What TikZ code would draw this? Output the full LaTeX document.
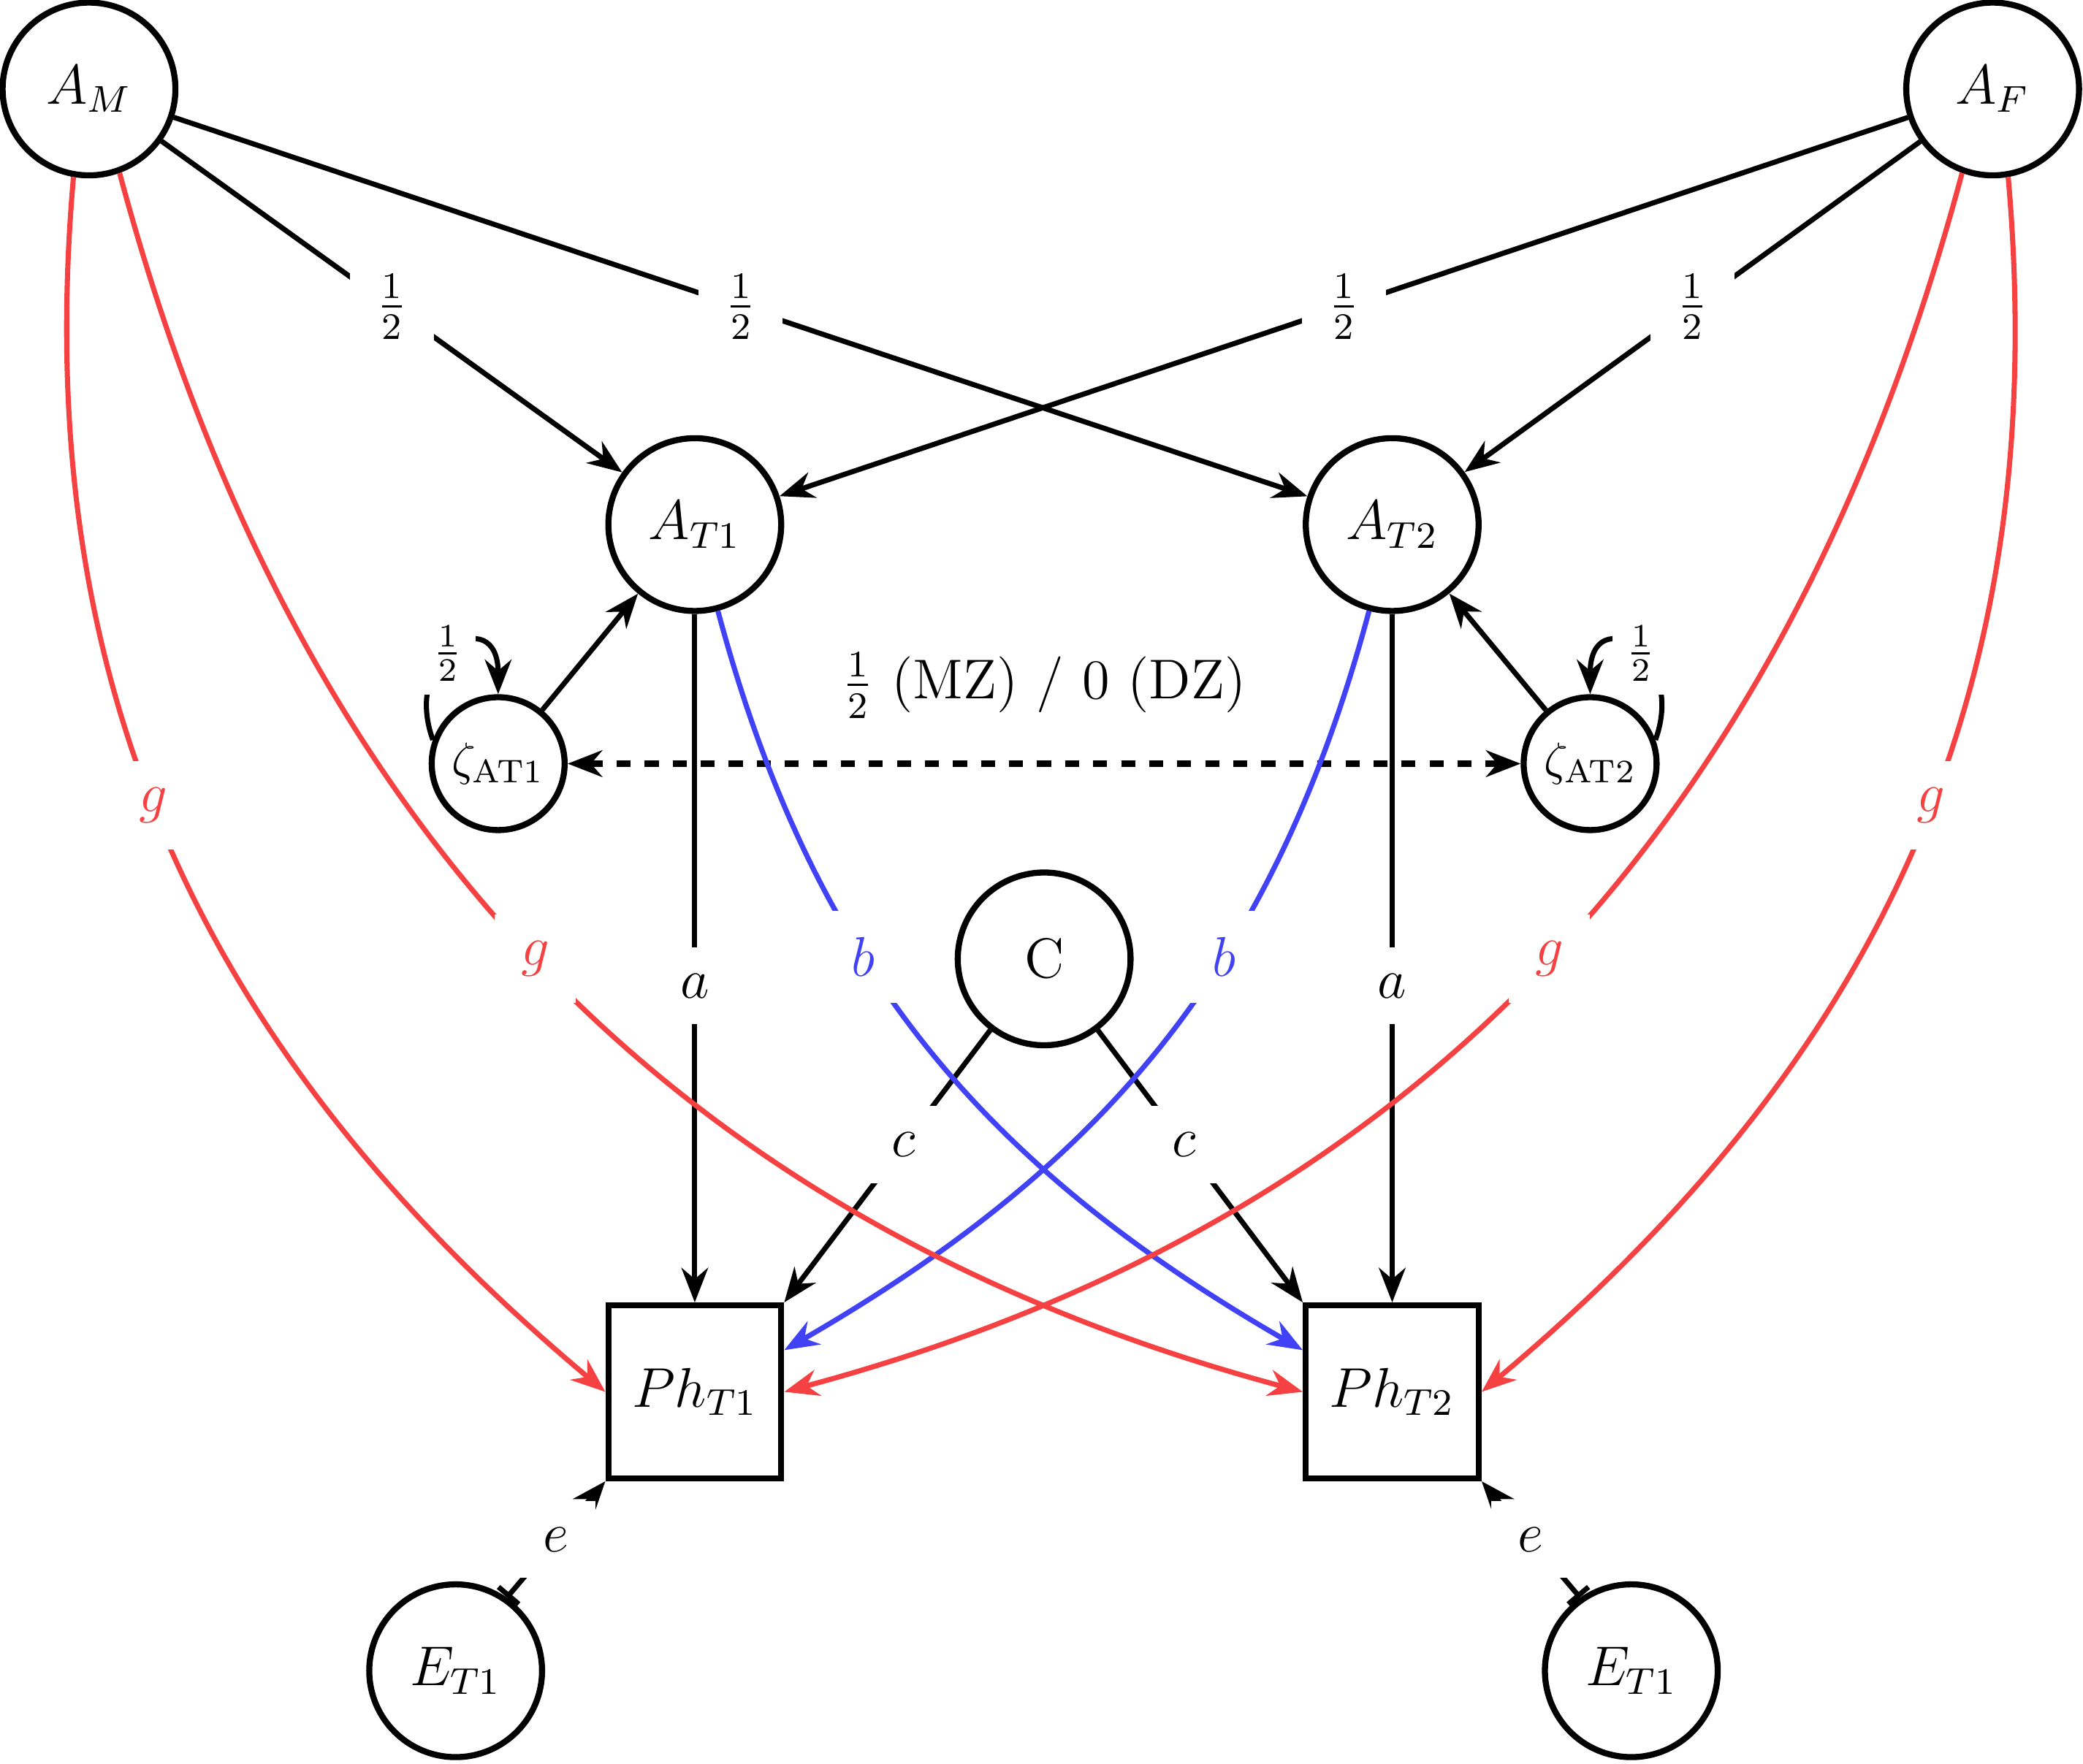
\documentclass[tikz,border=0pt]{standalone}
\usepackage{amsmath}
\usepackage{tikz}
\usetikzlibrary{arrows.meta,positioning}
\tikzset{>={Stealth[length=2.6mm,width=2mm]}}
\tikzset{latent/.style={circle,draw,line width=1.3pt,minimum size=13mm,inner sep=0mm,font=\large}}
\tikzset{resid/.style={circle,draw,line width=1.3pt,minimum size=10mm,inner sep=0mm}}
\tikzset{observed/.style={rectangle,draw,line width=1.3pt,minimum size=13mm,inner sep=0mm,font=\large}}
\tikzset{path/.style={->,line width=1.1pt}}
\tikzset{lbl/.style={fill=white,inner sep=2mm,font=\large}}
\definecolor{gred}{RGB}{245,65,65}
\definecolor{bblue}{RGB}{65,65,245}
\begin{document}
\begin{tikzpicture}[x=0.01cm,y=-0.01cm]
    \useasboundingbox (0,0) rectangle (1568,1328);
    \node[latent]   (am)  at (67,67)    {$A_M$};
    \node[latent]   (af)  at (1500,67)  {$A_F$};
    \node[latent]   (at1) at (523,395)  {$A_{T1}$};
    \node[latent]   (at2) at (1048,395) {$A_{T2}$};
    \node[resid]    (z1)  at (375,575)  {$\zeta_{\text{AT1}}$};
    \node[resid]    (z2)  at (1197,575) {$\zeta_{\text{AT2}}$};
    \node[latent]   (c)   at (786,722)  {C};
    \node[observed] (ph1) at (523,1048) {$Ph_{T1}$};
    \node[observed] (ph2) at (1048,1048) {$Ph_{T2}$};
    \node[latent]   (e1)  at (343,1258) {$E_{T1}$};
    \node[latent]   (e2)  at (1228,1258) {$E_{T1}$};

    % genetic transmission
    \draw[path] (am) -- (at1) node[midway,lbl] {$\frac12$};
    \draw[path] (am) -- (at2) node[pos=0.5,lbl] {$\frac12$};
    \draw[path] (af) -- (at1) node[pos=0.5,lbl] {$\frac12$};
    \draw[path] (af) -- (at2) node[midway,lbl] {$\frac12$};

    % residuals
    \draw[path] (z1) -- (at1);
    \draw[path] (z2) -- (at2);
    \draw[path] (z1.160) to[out=110,in=90,looseness=3] node[pos=0.45,fill=white,inner sep=1mm] {$\frac12$} (z1.north);
    \draw[path] (z2.20) to[out=70,in=90,looseness=3] node[pos=0.45,fill=white,inner sep=1mm] {$\frac12$} (z2.north);
    \draw[{Stealth[length=2.6mm,width=2mm]}-{Stealth[length=2.6mm,width=2mm]},line width=1.4pt,dashed] (z1) -- (z2)
        node[midway,above=2mm,font=\large] {$\frac12$ (MZ) / 0 (DZ)};

    % paths to phenotypes
    \draw[path] (at1) -- (ph1) node[pos=0.54,lbl] {$a$};
    \draw[path] (at2) -- (ph2) node[pos=0.54,lbl] {$a$};
    \draw[path] (c) -- (ph1.north east) node[pos=0.42,lbl] {$c$};
    \draw[path] (c) -- (ph2.north west) node[pos=0.42,lbl] {$c$};
    \draw[path,bblue] (at1.285) to[out=-75,in=150] node[pos=0.38,lbl,text=bblue] {$b$} (ph2.155);
    \draw[path,bblue] (at2.255) to[out=-105,in=30] node[pos=0.38,lbl,text=bblue] {$b$} (ph1.25);
    \draw[path,gred] (am.260) to[out=-95,in=140] node[pos=0.46,lbl,text=gred] {$g$} (ph1.west);
    \draw[path,gred] (am.290) to[out=-75,in=165] node[pos=0.5,lbl,text=gred] {$g$} (ph2.west);
    \draw[path,gred] (af.280) to[out=-85,in=40] node[pos=0.46,lbl,text=gred] {$g$} (ph2.east);
    \draw[path,gred] (af.250) to[out=-105,in=15] node[pos=0.5,lbl,text=gred] {$g$} (ph1.east);

    % unique environment
    \draw[{Bar[width=2mm]}->,line width=1.1pt] (e1.55) -- (ph1.south west) node[midway,lbl] {$e$};
    \draw[{Bar[width=2mm]}->,line width=1.1pt] (e2.125) -- (ph2.south east) node[midway,lbl] {$e$};
\end{tikzpicture}
\end{document}
